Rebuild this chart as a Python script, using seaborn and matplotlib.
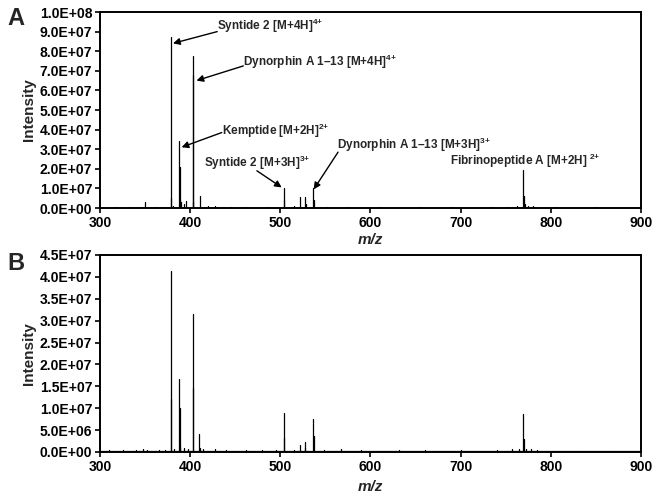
import matplotlib
matplotlib.use("Agg")
import matplotlib.pyplot as plt
import seaborn as sns
import pandas as pd
import numpy as np

# ---- data ----
mz_A = [318, 332, 345, 350, 362, 372, 378.5, 379.0, 381, 387.8, 388.3, 388.8, 390.2, 393, 395.2,
        402.6, 403.1, 403.7, 410.5, 420, 428, 445, 462, 485, 503.8, 504.3, 515, 522.0, 527.0, 528.0,
        536.7, 537.2, 552, 575, 610, 655, 690, 735, 752, 763, 769.6, 770.1, 771.2, 775, 780, 805, 850]
int_A = [0.5e6, 0.6e6, 0.5e6, 3.0e6, 0.5e6, 0.6e6, 8.75e7, 5.0e6, 1.0e6, 3.4e7, 2.1e7, 4.0e6, 3.0e6, 2.0e6, 3.5e6,
         7.77e7, 6.8e7, 3.0e6, 6.0e6, 1.0e6, 0.8e6, 0.5e6, 0.6e6, 0.5e6, 1.0e7, 4.0e6, 0.8e6, 5.5e6, 5.5e6, 2.0e6,
         1.0e7, 4.0e6, 0.6e6, 0.5e6, 0.5e6, 0.4e6, 0.5e6, 0.5e6, 0.6e6, 0.8e6, 1.94e7, 6.0e6, 2.0e6, 1.2e6, 1.0e6, 0.4e6, 0.3e6]

mz_B = [310, 325, 340, 348, 352, 365, 372, 378.5, 378.9, 382, 387.8, 388.3, 389.0, 393, 398,
        402.6, 403.1, 410.0, 410.5, 414, 428, 440, 462, 480, 495, 503.8, 504.3, 515, 522.0, 527.0, 527.6,
        536.7, 537.2, 548, 567, 590, 632, 660, 700, 740, 757, 765, 769.6, 770.1, 772, 778, 785, 830, 870]
int_B = [0.4e6, 0.5e6, 0.4e6, 0.6e6, 0.5e6, 0.4e6, 0.5e6, 4.13e7, 1.2e7, 0.6e6, 1.67e7, 1.0e7, 1.2e6, 0.8e6, 0.6e6,
         3.15e7, 1.47e7, 4.0e6, 1.0e6, 0.6e6, 0.7e6, 0.4e6, 0.5e6, 0.4e6, 0.4e6, 8.8e6, 3.2e6, 0.5e6, 1.6e6, 2.2e6, 0.9e6,
         7.6e6, 3.6e6, 0.4e6, 0.6e6, 0.4e6, 0.5e6, 0.4e6, 0.4e6, 0.4e6, 0.6e6, 0.6e6, 8.7e6, 3.0e6, 0.7e6, 0.6e6, 0.5e6, 0.3e6, 0.3e6]

x_ticks = [300, 400, 500, 600, 700, 800, 900]
yticks_A = [0, 1e7, 2e7, 3e7, 4e7, 5e7, 6e7, 7e7, 8e7, 9e7, 1e8]
yticks_B = [0, 5e6, 1e7, 1.5e7, 2e7, 2.5e7, 3e7, 3.5e7, 4e7, 4.5e7]

labels_A = ["Syntide 2 [M+4H]$^{4{+}}$", "Dynorphin A 1\u201313 [M+4H]$^{4{+}}$", "Kemptide [M+2H]$^{2{+}}$",
            "Syntide 2 [M+3H]$^{3{+}}$", "Dynorphin A 1\u201313 [M+3H]$^{3{+}}$", "Fibrinopeptide A [M+2H]$^{\\ 2{+}}$"]
label_text_xy = [(430, 9.3e7), (459, 7.45e7), (435, 3.93e7), (415, 2.3e7), (563, 3.2e7), (688, 2.4e7)]
label_arrow_xy = [(381, 8.4e7), (407, 6.5e7), (390.5, 3.1e7), (501.5, 1.05e7), (537, 0.95e7), None]
label_arrow_from = [(430, 9.0e7), (459, 7.25e7), (435, 3.85e7), (474, 1.9e7), (564, 2.85e7), None]


def stick_frame(mz, inten):
    xs, ys, g = [], [], []
    for i, (m, h) in enumerate(zip(mz, inten)):
        xs += [m, m]
        ys += [0, h]
        g += [i, i]
    # baseline
    xs += [300, 900]
    ys += [1.5e5, 1.5e5]
    g += [-1, -1]
    return pd.DataFrame({"mz": xs, "I": ys, "g": g})


sns.set_theme(style="ticks")
plt.rcParams["font.family"] = ["Liberation Sans", "DejaVu Sans"]
plt.rcParams["font.weight"] = "bold"
plt.rcParams["mathtext.fontset"] = "custom"
plt.rcParams["mathtext.bf"] = "Liberation Sans:bold"
plt.rcParams["mathtext.rm"] = "Liberation Sans:bold"
plt.rcParams["mathtext.default"] = "bf"

fig = plt.figure(figsize=(6.6, 4.98), dpi=100)
axA = fig.add_axes([0.1515, 0.5823, 0.8197, 0.3936])
axB = fig.add_axes([0.1515, 0.0924, 0.8197, 0.3956])


def style(ax, yticks, ymax):
    ax.set_xlim(300, 900)
    ax.set_ylim(0, ymax)
    ax.set_xticks(x_ticks)
    ax.set_xticklabels([str(t) for t in x_ticks], fontsize=10, fontweight="bold")
    ax.set_yticks(yticks)
    ax.set_yticklabels(["%.1E" % v for v in yticks], fontsize=10, fontweight="bold")
    for s in ax.spines.values():
        s.set_visible(True)
        s.set_linewidth(1.4)
        s.set_color("black")
    ax.tick_params(axis="both", direction="out", length=3.5, width=1.2, colors="black", pad=2)
    ax.set_xlabel("m/z", fontsize=11, fontweight="bold", style="italic")
    ax.set_ylabel("Intensity", fontsize=11, fontweight="bold")
    ax.yaxis.set_label_coords(-0.118, 0.5)


dfA = stick_frame(mz_A, int_A)
dfB = stick_frame(mz_B, int_B)
sns.lineplot(data=dfA, x="mz", y="I", units="g", estimator=None, sort=False,
             color="black", lw=0.9, ax=axA, legend=False)
sns.lineplot(data=dfB, x="mz", y="I", units="g", estimator=None, sort=False,
             color="black", lw=0.9, ax=axB, legend=False)

style(axA, yticks_A, 1e8)
style(axB, yticks_B, 4.5e7)
axA.xaxis.set_label_coords(0.5, -0.125)
axB.xaxis.set_label_coords(0.5, -0.14)

for txt, pos, head, tail in zip(labels_A, label_text_xy, label_arrow_xy, label_arrow_from):
    axA.text(pos[0], pos[1], txt, fontsize=8.5, fontweight="bold", ha="left", va="center")
    if head is not None:
        axA.annotate("", xy=head, xytext=tail,
                     arrowprops=dict(arrowstyle="-|>", color="black", lw=1.0,
                                     mutation_scale=10, shrinkA=0, shrinkB=0))

fig.text(0.011, 0.985, "A", fontsize=17, fontweight="bold", va="top", ha="left")
fig.text(0.011, 0.493, "B", fontsize=17, fontweight="bold", va="top", ha="left")

fig.savefig("out.png", dpi=100, facecolor="white")
